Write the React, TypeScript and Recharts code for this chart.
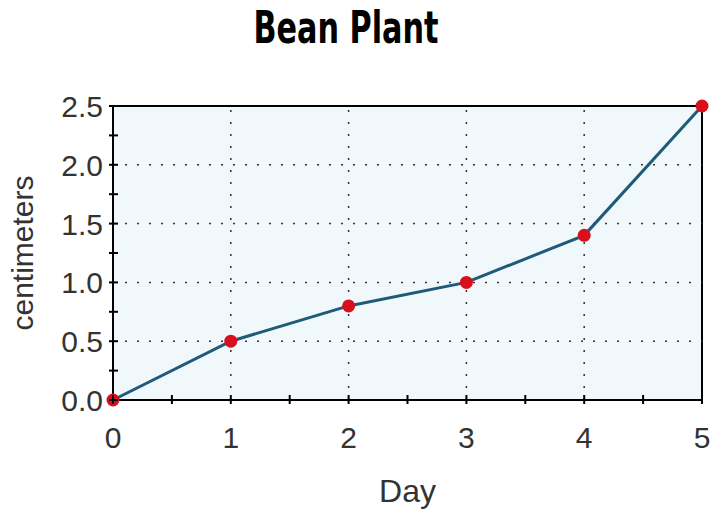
import React from 'react';
import { LineChart, Line, XAxis, YAxis, ReferenceArea, ReferenceLine } from 'recharts';

const days = [0, 1, 2, 3, 4, 5];
const heights = [0, 0.5, 0.8, 1.0, 1.4, 2.5];
const xTicks = [0, 0.5, 1, 1.5, 2, 2.5, 3, 3.5, 4, 4.5, 5];
const yTicks = [0, 0.25, 0.5, 0.75, 1, 1.25, 1.5, 1.75, 2, 2.25, 2.5];
const xGrid = [1, 2, 3, 4];
const yGrid = [0.5, 1, 1.5, 2];
const title = 'Bean Plant';
const xLabel = 'Day';
const yLabel = 'centimeters';

const data = days.map((d, i) => ({ day: d, cm: heights[i] }));

const FONT = '"Liberation Sans", Arial, sans-serif';

const XTick = (props: any) => {
  const { x, y, payload } = props;
  const v = payload.value;
  const major = Number.isInteger(v);
  return (
    <g>
      <line x1={x} x2={x} y1={y - 5} y2={y + 4} stroke="#000" strokeWidth={2} />
      {major && (
        <text x={x} y={y + 48} textAnchor="middle" fontSize={30} fontFamily={FONT} fill="#333">
          {String(v)}
        </text>
      )}
    </g>
  );
};

const YTick = (props: any) => {
  const { x, y, payload } = props;
  const v = payload.value;
  const major = Math.abs(v * 2 - Math.round(v * 2)) < 1e-9;
  return (
    <g>
      <line x1={x - 4} x2={x + 5} y1={y} y2={y} stroke="#000" strokeWidth={2} />
      {major && (
        <text x={x - 10} y={y + 11} textAnchor="end" fontSize={30} fontFamily={FONT} fill="#333">
          {v.toFixed(1)}
        </text>
      )}
    </g>
  );
};

export default function App() {
  return (
    <div style={{ position: 'absolute', left: 0, top: 0, width: 713, height: 510, background: '#fff' }}>
      <svg width={713} height={80} style={{ position: 'absolute', left: 0, top: 0 }}>
        <text
          x={346}
          y={43}
          textAnchor="middle"
          fontSize={44}
          fontWeight="bold"
          fontFamily='"DejaVu Sans Condensed", "Liberation Sans Narrow", sans-serif'
          textLength={185}
          lengthAdjust="spacingAndGlyphs"
          fill="#000"
        >
          {title}
        </text>
      </svg>
      <div style={{ position: 'absolute', left: 0, top: 0 }}>
        <LineChart width={713} height={510} data={data} margin={{ top: 106, right: 11, left: 0, bottom: 0 }}>
          <ReferenceArea x1={0} x2={5} y1={0} y2={2.5} fill="#f1f8fc" fillOpacity={1} stroke="#000" strokeWidth={2} ifOverflow="visible" />
          {xGrid.map((g) => (
            <ReferenceLine key={'x' + g} x={g} stroke="#333" strokeWidth={1.5} strokeDasharray="2 10" />
          ))}
          {yGrid.map((g) => (
            <ReferenceLine key={'y' + g} y={g} stroke="#333" strokeWidth={1.5} strokeDasharray="2 10" />
          ))}
          <XAxis
            dataKey="day"
            type="number"
            domain={[0, 5]}
            ticks={xTicks}
            interval={0}
            height={110}
            tickSize={0}
            tickMargin={0}
            tickLine={false}
            axisLine={{ stroke: '#000', strokeWidth: 2 }}
            tick={<XTick />}
            label={{ value: xLabel, position: 'insideTop', offset: 79, fontSize: 32, fontFamily: FONT, fill: '#333' }}
          />
          <YAxis
            type="number"
            domain={[0, 2.5]}
            ticks={yTicks}
            interval={0}
            width={113}
            tickSize={0}
            tickMargin={0}
            tickLine={false}
            axisLine={{ stroke: '#000', strokeWidth: 2 }}
            tick={<YTick />}
            label={{ value: yLabel, angle: -90, position: 'insideLeft', offset: 22, fontSize: 30, fontFamily: FONT, fill: '#333', style: { textAnchor: 'middle' } }}
          />
          <Line
            dataKey="cm"
            stroke="#1f5a78"
            strokeWidth={3}
            isAnimationActive={false}
            dot={{ r: 6.5, fill: '#d8101c', stroke: 'none' }}
            activeDot={false}
          />
        </LineChart>
      </div>
    </div>
  );
}
